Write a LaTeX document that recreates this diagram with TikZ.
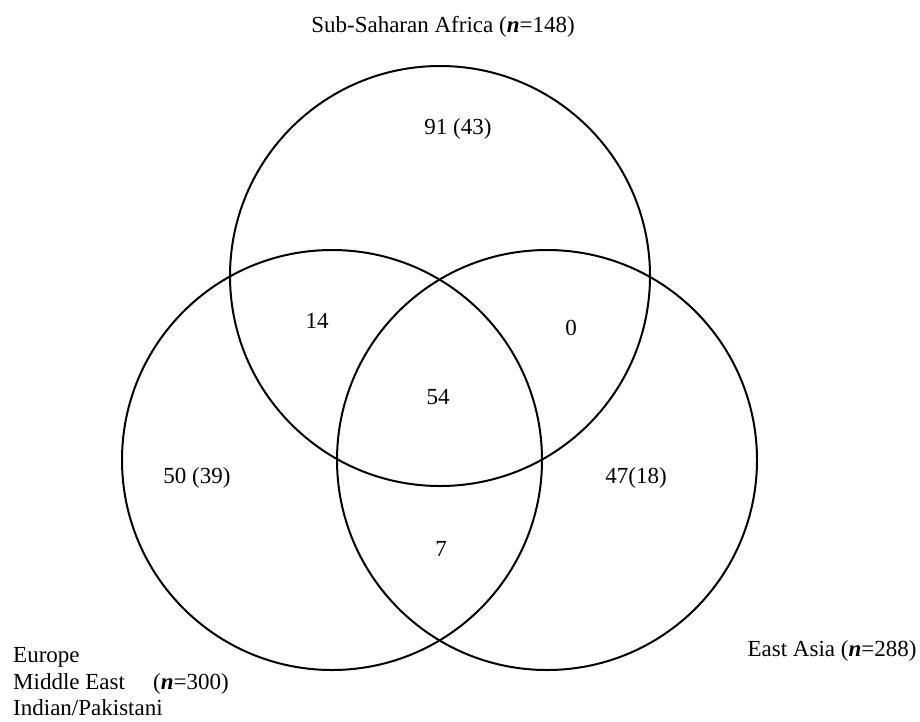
\documentclass[tikz,border=0pt]{standalone}
\usepackage{fontspec}
\setmainfont{Liberation Serif}
\begin{document}
\begin{tikzpicture}[x=1pt,y=-1pt,
  setcircle/.style={line width=2pt},
  lbl/.style={anchor=base,inner sep=0pt,font=\fontsize{23}{28}\selectfont},
  lbll/.style={anchor=base west,inner sep=0pt,font=\fontsize{23}{28}\selectfont}]
\useasboundingbox (0,0) rectangle (920,721);
\newcommand{\nn}{\textbf{\textit{n}}}
% circles
\draw[setcircle] (440,276) circle (210);
\draw[setcircle] (332,460) circle (210);
\draw[setcircle] (547,460) circle (210);
% titles
\node[lbl] (ssa) at (443,32) {Sub-Saharan Africa (\nn=148)};
\node[lbl] (ea) at (832,656) {East Asia (\nn=288)};
\node[lbll] (eu) at (13,662) {Europe};
\node[lbll] (me) at (13,689) {Middle East};
\node[lbll] (ip) at (13,715) {Indian/Pakistani};
\node[lbll] (n3) at (153,689) {(\nn=300)};
% counts
\node[lbl] (a) at (458,134) {91 (43)};
\node[lbl] (ab) at (317,328) {14};
\node[lbl] (ac) at (571,335) {0};
\node[lbl] (abc) at (438,404) {54};
\node[lbl] (b) at (197,483) {50 (39)};
\node[lbl] (c) at (636,483) {47(18)};
\node[lbl] (bc) at (441,556) {7};
\end{tikzpicture}
\end{document}
